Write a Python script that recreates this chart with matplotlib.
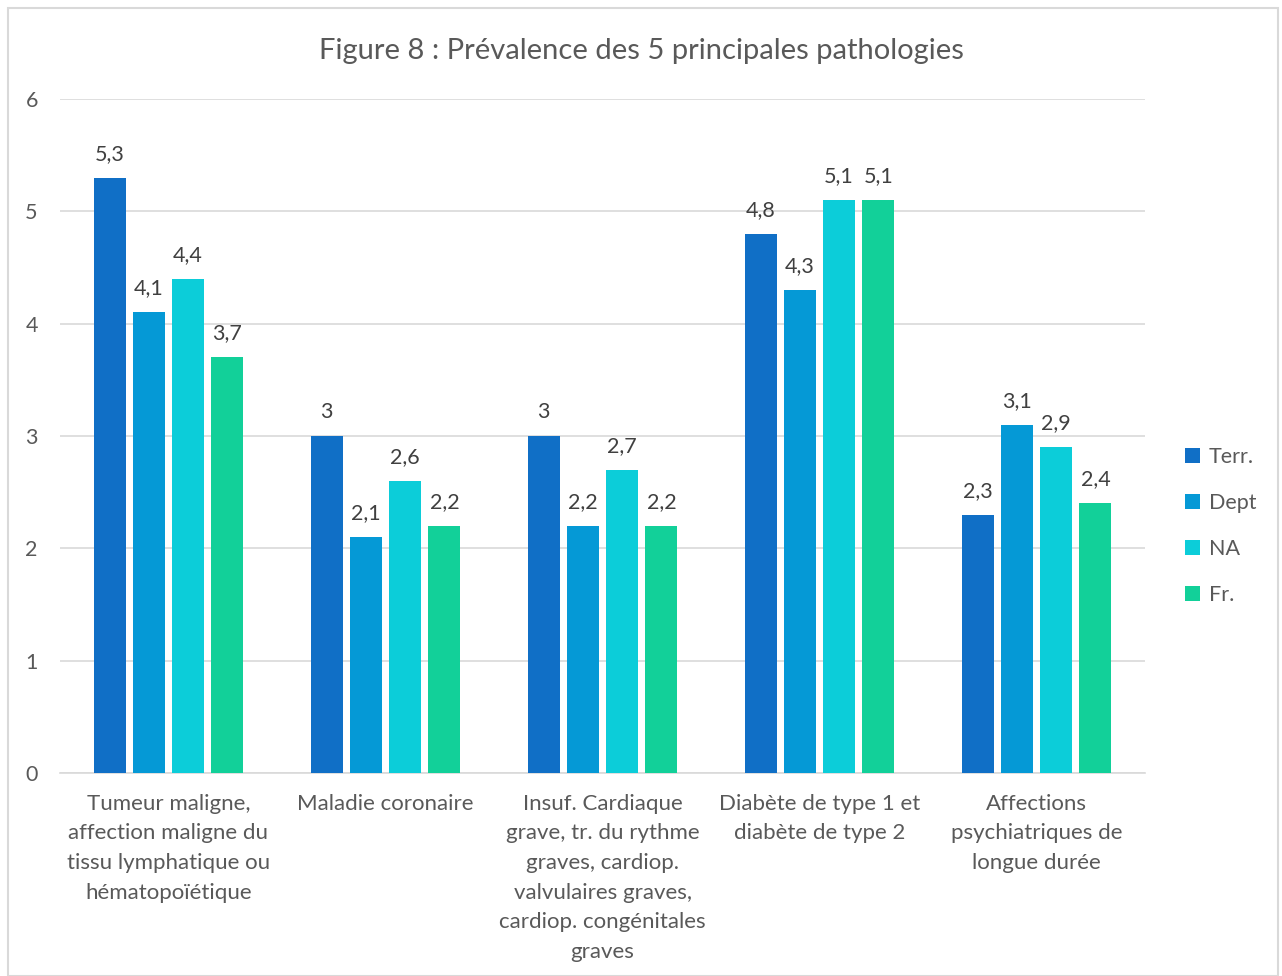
import matplotlib
matplotlib.use("Agg")
import matplotlib.pyplot as plt
from matplotlib.patches import Rectangle
import numpy as np

plt.rcParams['font.family'] = ['Lato', 'DejaVu Sans']

categories = [
    "Tumeur maligne,\naffection maligne du\ntissu lymphatique ou\nhématopoïétique",
    "Maladie coronaire",
    "Insuf. Cardiaque\ngrave, tr. du rythme\ngraves, cardiop.\nvalvulaires graves,\ncardiop. congénitales\ngraves",
    "Diabète de type 1 et\ndiabète de type 2",
    "Affections\npsychiatriques de\nlongue durée",
]
series_names = ["Terr.", "Dept", "NA", "Fr."]
terr = [5.3, 3.0, 3.0, 4.8, 2.3]
dept = [4.1, 2.1, 2.2, 4.3, 3.1]
na = [4.4, 2.6, 2.7, 5.1, 2.9]
fr = [3.7, 2.2, 2.2, 5.1, 2.4]
colors = ["#106FC6", "#0599D6", "#0CCDD9", "#12D099"]

W, H = 1282, 976
fig = plt.figure(figsize=(W / 100, H / 100), dpi=100)
ax = fig.add_axes([60 / W, 1 - 773 / H, (1145 - 60) / W, (773 - 99) / H])

x = np.arange(len(categories))
step = 39.3 / 217
width = 32 / 217
text_color = "#595959"
for i, (vals, name, c) in enumerate(zip([terr, dept, na, fr], series_names, colors)):
    pos = x + (i - 1.5) * step
    bars = ax.bar(pos, vals, width=width, color=c, label=name, zorder=3)
    for b, v in zip(bars, vals):
        lbl = f"{v:g}".replace(".", ",")
        ax.annotate(lbl, (b.get_x() + b.get_width() / 2, v), xytext=(0, 10),
                    textcoords="offset points", ha="center", va="bottom",
                    fontsize=15.5, color="#404040")

ax.set_xlim(-0.5, len(categories) - 0.5)
ax.set_ylim(0, 6)
ax.set_yticks(range(0, 7))
ax.grid(axis="y", color="#D9D9D9", linewidth=1.2, zorder=0)
ax.set_axisbelow(True)
for s in ["top", "right", "left"]:
    ax.spines[s].set_visible(False)
ax.spines["bottom"].set_color("#D9D9D9")
ax.spines["bottom"].set_linewidth(1.2)
ax.tick_params(axis="both", length=0, labelsize=15.5, colors=text_color)
ax.tick_params(axis="y", pad=16)
ax.set_xticks(x)
ax.set_xticklabels(categories, fontsize=16, color=text_color, linespacing=1.6)
ax.tick_params(axis="x", pad=15)

fig.text(641 / W, 1 - 51 / H, "Figure 8 : Prévalence des 5 principales pathologies",
         ha="center", va="center", fontsize=21, color=text_color)

leg = fig.legend(loc="center left", bbox_to_anchor=(1166 / W, 1 - 526 / H),
                 frameon=False, fontsize=15.5, handlelength=0.7, handleheight=0.7,
                 handletextpad=0.4, labelspacing=1.2, labelcolor=text_color)

fig.patches.append(Rectangle((8 / W, 0), (1278 - 8) / W, 1 - 8 / H,
                             transform=fig.transFigure, fill=False,
                             edgecolor="#D9D9D9", linewidth=1.5))

fig.savefig("out.png", dpi=100, facecolor="white")
